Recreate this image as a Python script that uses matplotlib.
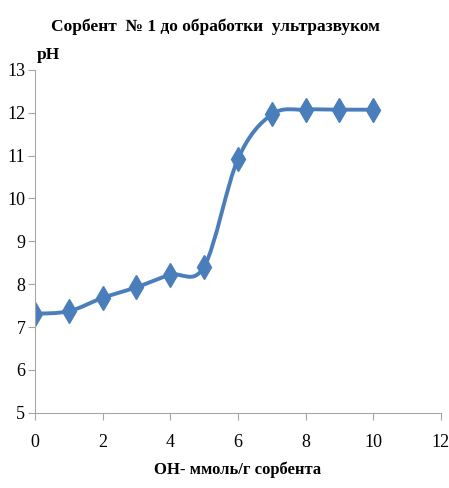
import numpy as np
import matplotlib.pyplot as plt
from matplotlib.path import Path
from matplotlib.patches import PathPatch

# данные титрования
oh = [0, 1, 2, 3, 4, 5, 6, 7, 8, 9, 10]
ph = [7.31, 7.37, 7.68, 7.93, 8.22, 8.41, 10.92, 11.96, 12.07, 12.07, 12.07]

color = '#4A7EBB'
axis_color = '#A6A6A6'
plt.rcParams['font.family'] = ['Liberation Serif', 'DejaVu Serif']


def smooth_path(x, y, k=1 / 6):
    # сглаженная линия как в Excel (кубические Безье)
    pts = np.column_stack([x, y]).astype(float)
    n = len(pts)
    verts = [pts[0]]
    codes = [Path.MOVETO]
    for i in range(n - 1):
        p0 = pts[i - 1] if i > 0 else pts[i]
        p1 = pts[i]
        p2 = pts[i + 1]
        p3 = pts[i + 2] if i + 2 < n else pts[i + 1]
        c1 = p1 + (p2 - p0) * k
        c2 = p2 - (p3 - p1) * k
        verts += [c1, c2, p2]
        codes += [Path.CURVE4] * 3
    return Path(verts, codes)


fig = plt.figure(figsize=(4.49, 4.88), dpi=100)
ax = fig.add_axes([0.078, 0.154, 0.904, 0.703])

ax.add_patch(PathPatch(smooth_path(oh, ph), facecolor='none', edgecolor=color,
                       lw=2.8, capstyle='round', joinstyle='round'))
ax.plot(oh, ph, linestyle='none', marker='d', markersize=12, color=color)

ax.set_xlim(0, 12)
ax.set_ylim(5, 13)
ax.set_xticks(range(0, 13, 2))
ax.set_yticks(range(5, 14))

for s in ['top', 'right']:
    ax.spines[s].set_visible(False)
for s in ['left', 'bottom']:
    ax.spines[s].set_color(axis_color)
ax.tick_params(colors=axis_color, labelcolor='black', labelsize=13,
               length=5, direction='out')
ax.tick_params(axis='x', pad=10)
ax.tick_params(axis='y', pad=2)

fig.text(0.48, 0.945, 'Сорбент  № 1 до обработки  ультразвуком',
         ha='center', va='center', fontsize=12.5, fontweight='bold')
fig.text(0.082, 0.887, 'pH', ha='left', va='center', fontsize=12.5, fontweight='bold')
fig.text(0.53, 0.037, 'OH- ммоль/г сорбента', ha='center', va='center',
         fontsize=12, fontweight='bold')

fig.savefig('out.png', dpi=100)
